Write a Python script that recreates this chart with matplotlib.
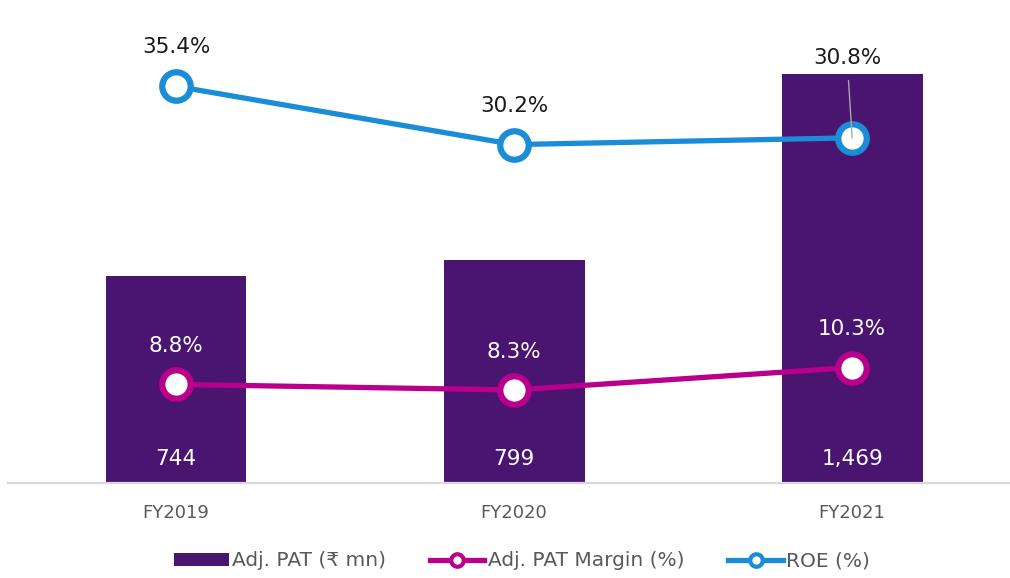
import matplotlib
matplotlib.use("Agg")
import matplotlib.pyplot as plt
from matplotlib.lines import Line2D
from matplotlib.patches import Patch

plt.rcParams['font.family'] = ['DejaVu Sans', 'Noto Sans']

years = ["FY2019", "FY2020", "FY2021"]
adj_pat = [744, 799, 1469]
pat_margin = [8.8, 8.3, 10.3]
roe = [35.4, 30.2, 30.8]

bar_color = "#4A1571"
margin_color = "#B8008C"
roe_color = "#1A8CD8"
grey_text = "#595959"

fig = plt.figure(figsize=(10.1, 5.78), dpi=100)
ax = fig.add_axes([8 / 1010, 95 / 578, 1002 / 1010, 483 / 578])
ax2 = ax.twinx()

x = list(range(len(years)))
ax.bar(x, adj_pat, width=0.417, color=bar_color, zorder=2)
ax.set_xlim(-0.497, 2.467)
ax.set_ylim(0, 1734)
ax2.set_ylim(0, 43.1)

for a in (ax, ax2):
    for s in a.spines.values():
        s.set_visible(False)
    a.set_yticks([])
ax.spines['bottom'].set_visible(True)
ax.spines['bottom'].set_color("#D9D9D9")
ax.spines['bottom'].set_linewidth(1.6)
ax.set_xticks(x)
ax.set_xticklabels(years, fontsize=13, color=grey_text)
ax.tick_params(axis='x', length=0, pad=15)

line_kw = dict(linewidth=3.8, marker='o', markersize=20.5, markerfacecolor='white',
               markeredgewidth=4.5, solid_capstyle='round', zorder=5)
ax2.plot(x, pat_margin, color=margin_color, markeredgecolor=margin_color, **line_kw)
ax2.plot(x, roe, color=roe_color, markeredgecolor=roe_color, **line_kw)

# bar values near the base of each bar
for xi, v in zip(x, adj_pat):
    ax.annotate(f"{v:,}", (xi, 0), xytext=(0, 17.5), textcoords='offset points',
                ha='center', va='center', fontsize=15.5, color='white', zorder=6)

# margin labels (white, inside bars)
for xi, v in zip(x, pat_margin):
    ax2.annotate(f"{v:.1f}%", (xi, v), xytext=(0, 27.5), textcoords='offset points',
                 ha='center', va='center', fontsize=15.5, color='white', zorder=6)

# ROE labels
for xi, v in zip(x, roe):
    if xi == 2:
        ax2.annotate(f"{v:.1f}%", (xi, v), xytext=(-3.6, 57.5), textcoords='offset points',
                     ha='center', va='center', fontsize=15.5, color='#1A1A1A', zorder=6,
                     arrowprops=dict(arrowstyle='-', color='#A6A6A6', lw=1.0,
                                     shrinkA=7, shrinkB=0))
    else:
        ax2.annotate(f"{v:.1f}%", (xi, v), xytext=(0, 28), textcoords='offset points',
                     ha='center', va='center', fontsize=15.5, color='#1A1A1A', zorder=6)

handles = [
    Patch(facecolor=bar_color, edgecolor='none'),
    Line2D([0], [0], color=margin_color, lw=3.8, marker='o', markersize=9,
           markerfacecolor='white', markeredgecolor=margin_color, markeredgewidth=3),
    Line2D([0], [0], color=roe_color, lw=3.8, marker='o', markersize=9,
           markerfacecolor='white', markeredgecolor=roe_color, markeredgewidth=3),
]
labels = ["Adj. PAT (\u20b9 mn)", "Adj. PAT Margin (%)", "ROE (%)"]
leg = fig.legend(handles, labels, loc='center', bbox_to_anchor=(522 / 1010, 1 - 561 / 578),
                 ncol=3, frameon=False, fontsize=14.5, handlelength=2.7, handleheight=0.6,
                 handletextpad=0.15, columnspacing=2.2)
for t in leg.get_texts():
    t.set_color(grey_text)

fig.savefig("out.png", dpi=100)
